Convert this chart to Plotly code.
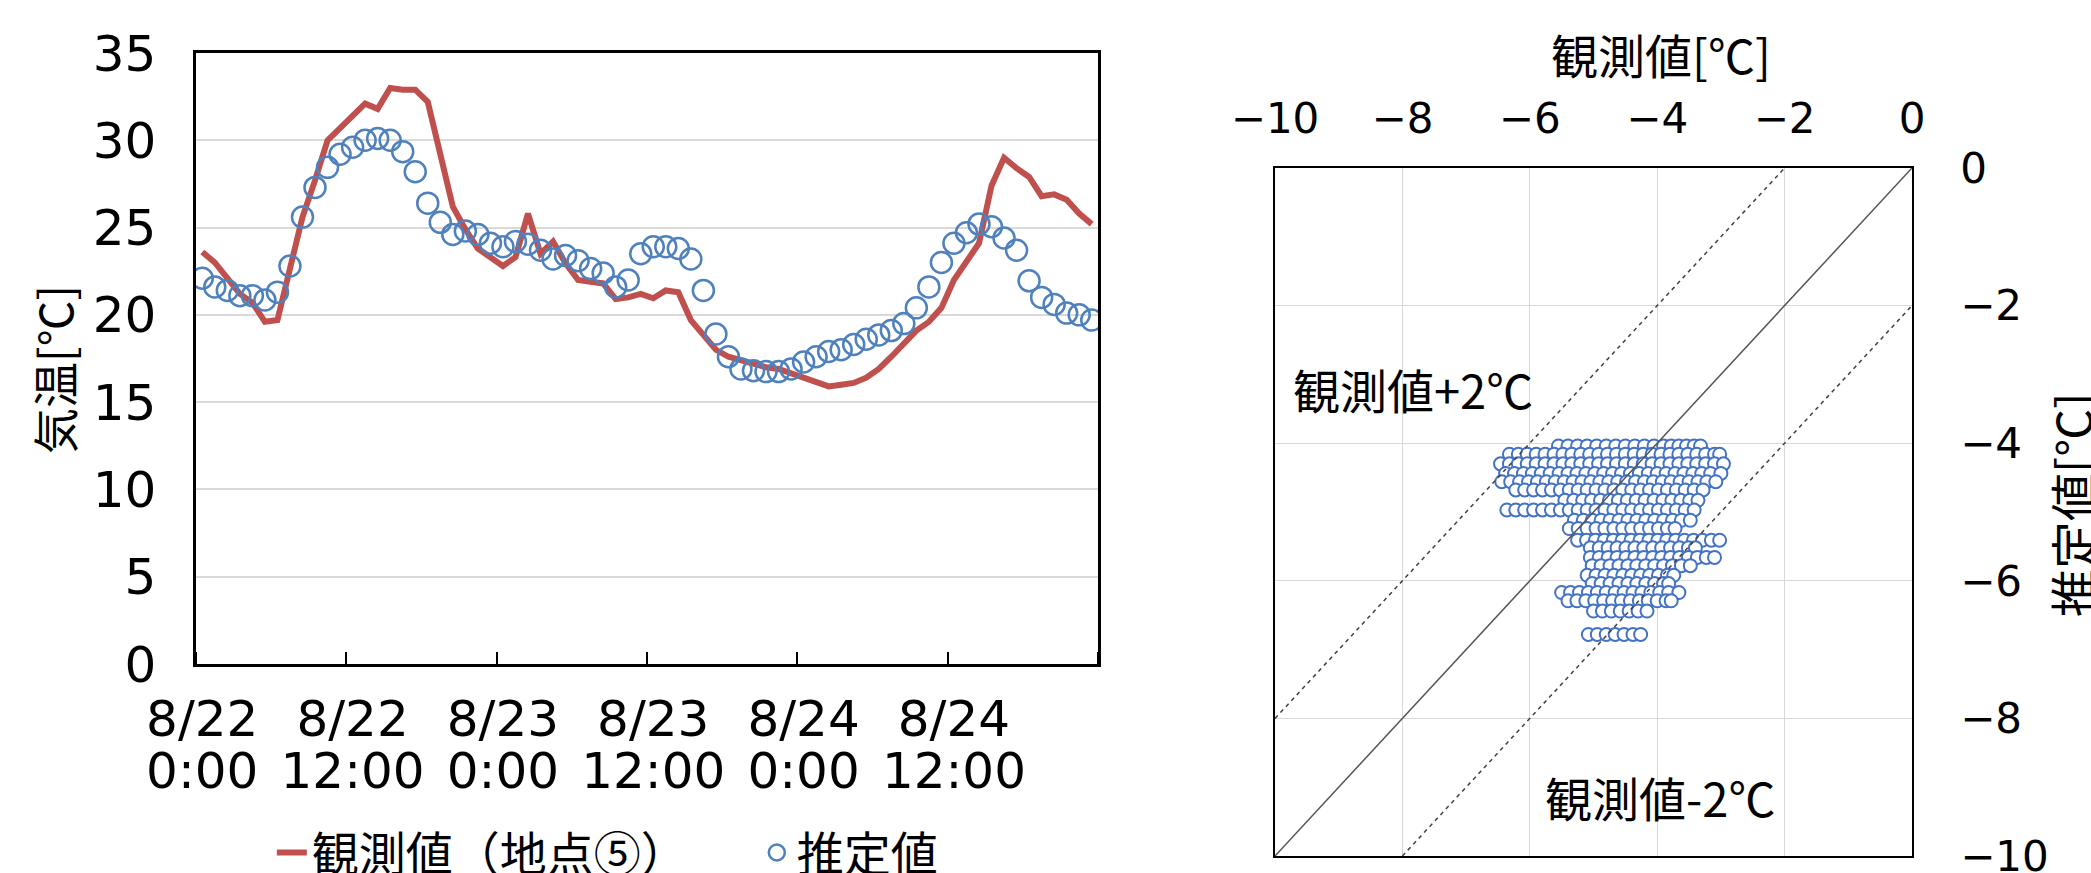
import plotly.graph_objects as go

# ---------------- data: left chart (hourly, 8/22 0:00 - 8/24 23:00) ----------------
hours = list(range(72))
tick_hours = [0, 12, 24, 36, 48, 60]
tick_dates = ["8/22", "8/22", "8/23", "8/23", "8/24", "8/24"]
tick_times = ["0:00", "12:00", "0:00", "12:00", "0:00", "12:00"]
boundary_ticks = [-0.5, 11.5, 23.5, 35.5, 47.5, 59.5, 71.5]

observed = [23.6, 23.0, 22.1, 21.2, 20.7, 19.6, 19.7, 22.8, 25.6, 27.7,
            30.0, 30.7, 31.4, 32.1, 31.8, 33.0, 32.9, 32.9, 32.2, 29.1,
            26.2, 24.9, 23.8, 23.3, 22.8, 23.3, 25.8, 23.5, 24.2, 22.95,
            22.0, 21.9, 21.8, 20.9, 21.0, 21.2, 20.95, 21.4, 21.3, 19.7,
            18.9, 18.0, 17.6, 17.4, 17.2, 17.0, 16.9, 16.65, 16.4, 16.1,
            15.9, 16.0, 16.1, 16.4, 16.9, 17.6, 18.3, 19.1, 19.6, 20.4,
            22.0, 23.1, 24.1, 27.4, 29.0, 28.4, 27.9, 26.8, 26.9, 26.6,
            25.8, 25.2]

estimated = [22.1, 21.6, 21.4, 21.1, 21.1, 20.85, 21.3, 22.8, 25.6, 27.3,
             28.45, 29.2, 29.6, 30.0, 30.1, 30.0, 29.35, 28.2, 26.4, 25.3,
             24.6, 24.8, 24.6, 24.1, 23.9, 24.2, 24.05, 23.7, 23.2, 23.4,
             23.1, 22.65, 22.4, 21.6, 22.0, 23.5, 23.9, 23.9, 23.8, 23.2,
             21.4, 18.9, 17.6, 16.9, 16.8, 16.75, 16.75, 16.9, 17.3, 17.6,
             17.9, 18.0, 18.3, 18.6, 18.85, 19.1, 19.5, 20.4, 21.6, 23.0,
             24.1, 24.7, 25.2, 25.05, 24.4, 23.7, 21.95, 21.0, 20.6, 20.1,
             20.0, 19.7]

# ---------------- data: right chart (observed vs estimated) ----------------
right_ticks = [-10, -8, -6, -4, -2, 0]

scatter_est_rows = [-4.04, -4.16, -4.30, -4.44, -4.56, -4.68, -4.83, -4.97, -5.12,
                    -5.24, -5.41, -5.52, -5.66, -5.78, -5.92, -6.04, -6.17, -6.29,
                    -6.44, -6.78]
scatter_obs_rows = [
    [-5.55, -5.40, -5.25, -5.10, -4.95, -4.80, -4.65, -4.50, -4.35, -4.20, -4.05, -3.90, -3.78, -3.66, -3.54, -3.42, -3.32],
    [-6.32, -6.18, -6.04, -5.90, -5.76, -5.62, -5.48, -5.34, -5.20, -5.06, -4.92, -4.78, -4.64, -4.50, -4.36, -4.22, -4.08, -3.94, -3.80, -3.66, -3.52, -3.38, -3.24, -3.10, -3.02],
    [-6.46, -6.32, -6.18, -6.04, -5.90, -5.76, -5.62, -5.48, -5.34, -5.20, -5.06, -4.92, -4.78, -4.64, -4.50, -4.36, -4.22, -4.08, -3.94, -3.80, -3.66, -3.52, -3.38, -3.24, -3.10, -2.96],
    [-6.38, -6.24, -6.10, -5.96, -5.82, -5.68, -5.54, -5.40, -5.26, -5.12, -4.98, -4.84, -4.70, -4.56, -4.42, -4.28, -4.14, -4.00, -3.86, -3.72, -3.58, -3.44, -3.30, -3.16, -3.00],
    [-6.44, -6.30, -6.16, -6.02, -5.88, -5.74, -5.60, -5.46, -5.32, -5.18, -5.04, -4.90, -4.76, -4.62, -4.48, -4.34, -4.20, -4.06, -3.92, -3.78, -3.64, -3.50, -3.36, -3.22, -3.08],
    [-6.22, -6.08, -5.94, -5.80, -5.66, -5.52, -5.38, -5.24, -5.10, -4.96, -4.82, -4.68, -4.54, -4.40, -4.26, -4.12, -3.98, -3.84, -3.70, -3.56, -3.42, -3.28],
    [-5.45, -5.31, -5.17, -5.03, -4.89, -4.75, -4.61, -4.47, -4.33, -4.19, -4.05, -3.91, -3.77, -3.63, -3.49, -3.36],
    [-6.36, -6.22, -6.08, -5.94, -5.80, -5.66, -5.52, -5.38, -5.24, -5.10, -4.96, -4.82, -4.68, -4.54, -4.40, -4.26, -4.12, -3.98, -3.84, -3.70, -3.56, -3.42],
    [-5.30, -5.16, -5.02, -4.88, -4.74, -4.60, -4.46, -4.32, -4.18, -4.04, -3.90, -3.76, -3.62, -3.48],
    [-5.38, -5.24, -5.10, -4.96, -4.82, -4.68, -4.54, -4.40, -4.26, -4.12, -3.98, -3.84, -3.72],
    [-5.25, -5.11, -4.97, -4.83, -4.69, -4.55, -4.41, -4.27, -4.13, -3.99, -3.85, -3.71, -3.57, -3.43, -3.29, -3.15, -3.02],
    [-5.05, -4.91, -4.77, -4.63, -4.49, -4.35, -4.21, -4.07, -3.93, -3.79, -3.65, -3.51, -3.40],
    [-5.05, -4.91, -4.77, -4.63, -4.49, -4.35, -4.21, -4.07, -3.93, -3.79, -3.65, -3.51, -3.37, -3.23, -3.10],
    [-5.02, -4.88, -4.74, -4.60, -4.46, -4.32, -4.18, -4.04, -3.90, -3.76, -3.62, -3.48],
    [-5.10, -4.96, -4.82, -4.68, -4.54, -4.40, -4.26, -4.12, -3.98, -3.84, -3.74],
    [-5.02, -4.88, -4.74, -4.60, -4.46, -4.32, -4.18, -4.04, -3.90, -3.82],
    [-5.50, -5.36, -5.22, -5.08, -4.94, -4.80, -4.66, -4.52, -4.38, -4.24, -4.10, -3.96, -3.82, -3.66],
    [-5.40, -5.26, -5.12, -4.98, -4.84, -4.70, -4.56, -4.42, -4.28, -4.14, -4.00, -3.86, -3.78],
    [-5.00, -4.86, -4.72, -4.58, -4.44, -4.30, -4.16],
    [-5.08, -4.94, -4.80, -4.66, -4.52, -4.38, -4.26],
]

# reference lines (observed = estimated, +/- 2 degC)
ref_x = [-10, 0]
ref_y = [-10, 0]
plus2_x = [-10, -2]
plus2_y = [-8, 0]
minus2_x = [-8, 0]
minus2_y = [-10, -2]

scatter_x = [v for row in scatter_obs_rows for v in row]
scatter_y = [est for est, row in zip(scatter_est_rows, scatter_obs_rows) for _ in row]

# ---------------- styling ----------------
RED = "#C0504D"
BLUE = "#4F81BD"
SCAT_BLUE = "#4472C4"
GRID = "#D9D9D9"
NUM_FONT = "DejaVu Sans, Noto Sans CJK JP, sans-serif"
JP_FONT = "Noto Sans CJK JP, DejaVu Sans, sans-serif"

fig = go.Figure()

fig.add_trace(go.Scatter(
    x=hours, y=observed, mode="lines", name="観測値（地点⑤）",
    line=dict(color=RED, width=6), xaxis="x", yaxis="y"))
fig.add_trace(go.Scatter(
    x=hours, y=estimated, mode="markers", name="推定値",
    marker=dict(symbol="circle-open", size=21, color=BLUE, line=dict(width=2.5, color=BLUE)),
    xaxis="x", yaxis="y"))
# empty carrier trace so that the second label row axis (x3) is drawn
fig.add_trace(go.Scatter(x=[], y=[], mode="markers", showlegend=False, hoverinfo="skip",
                         xaxis="x3", yaxis="y"))

fig.add_trace(go.Scatter(
    x=scatter_x, y=scatter_y, mode="markers", showlegend=False,
    marker=dict(symbol="circle", size=13, color="white", line=dict(width=2, color=SCAT_BLUE)),
    xaxis="x2", yaxis="y2"))
fig.add_trace(go.Scatter(x=ref_x, y=ref_y, mode="lines", showlegend=False,
                         line=dict(color="#555555", width=1.5), xaxis="x2", yaxis="y2"))
fig.add_trace(go.Scatter(x=plus2_x, y=plus2_y, mode="lines", showlegend=False,
                         line=dict(color="#404040", width=1.5, dash="4px,4px"), xaxis="x2", yaxis="y2"))
fig.add_trace(go.Scatter(x=minus2_x, y=minus2_y, mode="lines", showlegend=False,
                         line=dict(color="#404040", width=1.5, dash="4px,4px"), xaxis="x2", yaxis="y2"))

left_dom_x = [196 / 2091, 1098 / 2091]
left_dom_y = [1 - 664 / 873, 1 - 53 / 873]
right_dom_x = [1275 / 2091, 1912 / 2091]
right_dom_y = [1 - 856 / 873, 1 - 168 / 873]

fig.update_layout(
    width=2091, height=873,
    margin=dict(l=0, r=0, t=0, b=0, autoexpand=False),
    paper_bgcolor="white", plot_bgcolor="white",
    font=dict(family=NUM_FONT, color="black"),
    xaxis=dict(domain=left_dom_x, anchor="y", range=[-0.5, 71.5], automargin=False,
               tickmode="array", tickvals=tick_hours, ticktext=tick_dates,
               ticks="", tickfont=dict(size=50, family=NUM_FONT), ticklabelstandoff=9,
               ticklabeloverflow="allow",
               showgrid=False, zeroline=False,
               showline=True, linecolor="black", linewidth=2.5, mirror=True,
               minor=dict(tickmode="array", tickvals=boundary_ticks, ticks="inside",
                          ticklen=12, tickwidth=2, tickcolor="black", showgrid=False)),
    xaxis3=dict(domain=left_dom_x, anchor="y", overlaying="x", side="bottom",
                range=[-0.5, 71.5], automargin=False,
                tickmode="array", tickvals=tick_hours, ticktext=tick_times,
                ticks="", tickfont=dict(size=50, family=NUM_FONT), ticklabelstandoff=73,
                ticklabeloverflow="allow",
                showgrid=False, zeroline=False, showline=False),
    yaxis=dict(domain=left_dom_y, anchor="x", range=[0, 35], dtick=5, automargin=False,
               ticks="", tickfont=dict(size=50, family=NUM_FONT), ticklabelstandoff=27,
               ticklabeloverflow="allow",
               showgrid=True, gridcolor=GRID, gridwidth=2, zeroline=False,
               showline=True, linecolor="black", linewidth=2.5, mirror=True),
    xaxis2=dict(domain=right_dom_x, anchor="y2", side="top", range=[-10, 0],
                tickmode="array", tickvals=right_ticks,
                automargin=False, ticklabeloverflow="allow",
                ticks="", tickfont=dict(size=42, family=NUM_FONT), ticklabelstandoff=16,
                showgrid=True, gridcolor=GRID, gridwidth=1, zeroline=False,
                showline=True, linecolor="black", linewidth=1.5, mirror=True),
    yaxis2=dict(domain=right_dom_y, anchor="x2", side="right", range=[-10, 0],
                tickmode="array", tickvals=right_ticks,
                automargin=False, ticklabeloverflow="allow",
                ticks="", tickfont=dict(size=42, family=NUM_FONT), ticklabelstandoff=38,
                showgrid=True, gridcolor=GRID, gridwidth=1, zeroline=False,
                showline=True, linecolor="black", linewidth=1.5, mirror=True),
    legend=dict(orientation="h", x=0.130, xanchor="left", y=1 - 853 / 873, yanchor="middle",
                font=dict(size=47, family=JP_FONT), bgcolor="rgba(0,0,0,0)",
                entrywidth=440, entrywidthmode="pixels"),
    showlegend=True,
)

annotations = [
    dict(text="気温[℃]", xref="paper", yref="paper", x=53 / 2091, y=1 - 369 / 873,
         xanchor="center", yanchor="middle",
         textangle=-90, showarrow=False, font=dict(size=46, family=JP_FONT)),
    dict(text="観測値[℃]", xref="paper", yref="paper", x=1661 / 2091, y=1 - 53 / 873,
         xanchor="center", yanchor="middle",
         showarrow=False, font=dict(size=47, family=JP_FONT)),
    dict(text="推定値[℃]", xref="paper", yref="paper", x=2071 / 2091, y=1 - 505 / 873,
         xanchor="center", yanchor="middle",
         textangle=-90, showarrow=False, font=dict(size=48, family=JP_FONT)),
    dict(text="観測値+2℃", xref="x2", yref="y2", x=-7.83, y=-3.21,
         xanchor="center", yanchor="middle",
         showarrow=False, font=dict(size=47, family=JP_FONT)),
    dict(text="観測値-2℃", xref="x2", yref="y2", x=-3.96, y=-9.14,
         xanchor="center", yanchor="middle",
         showarrow=False, font=dict(size=47, family=JP_FONT)),
]
fig.update_layout(annotations=annotations)

fig.write_html("out.html", config={"displayModeBar": False},
               post_script="document.body.style.margin='0';")
